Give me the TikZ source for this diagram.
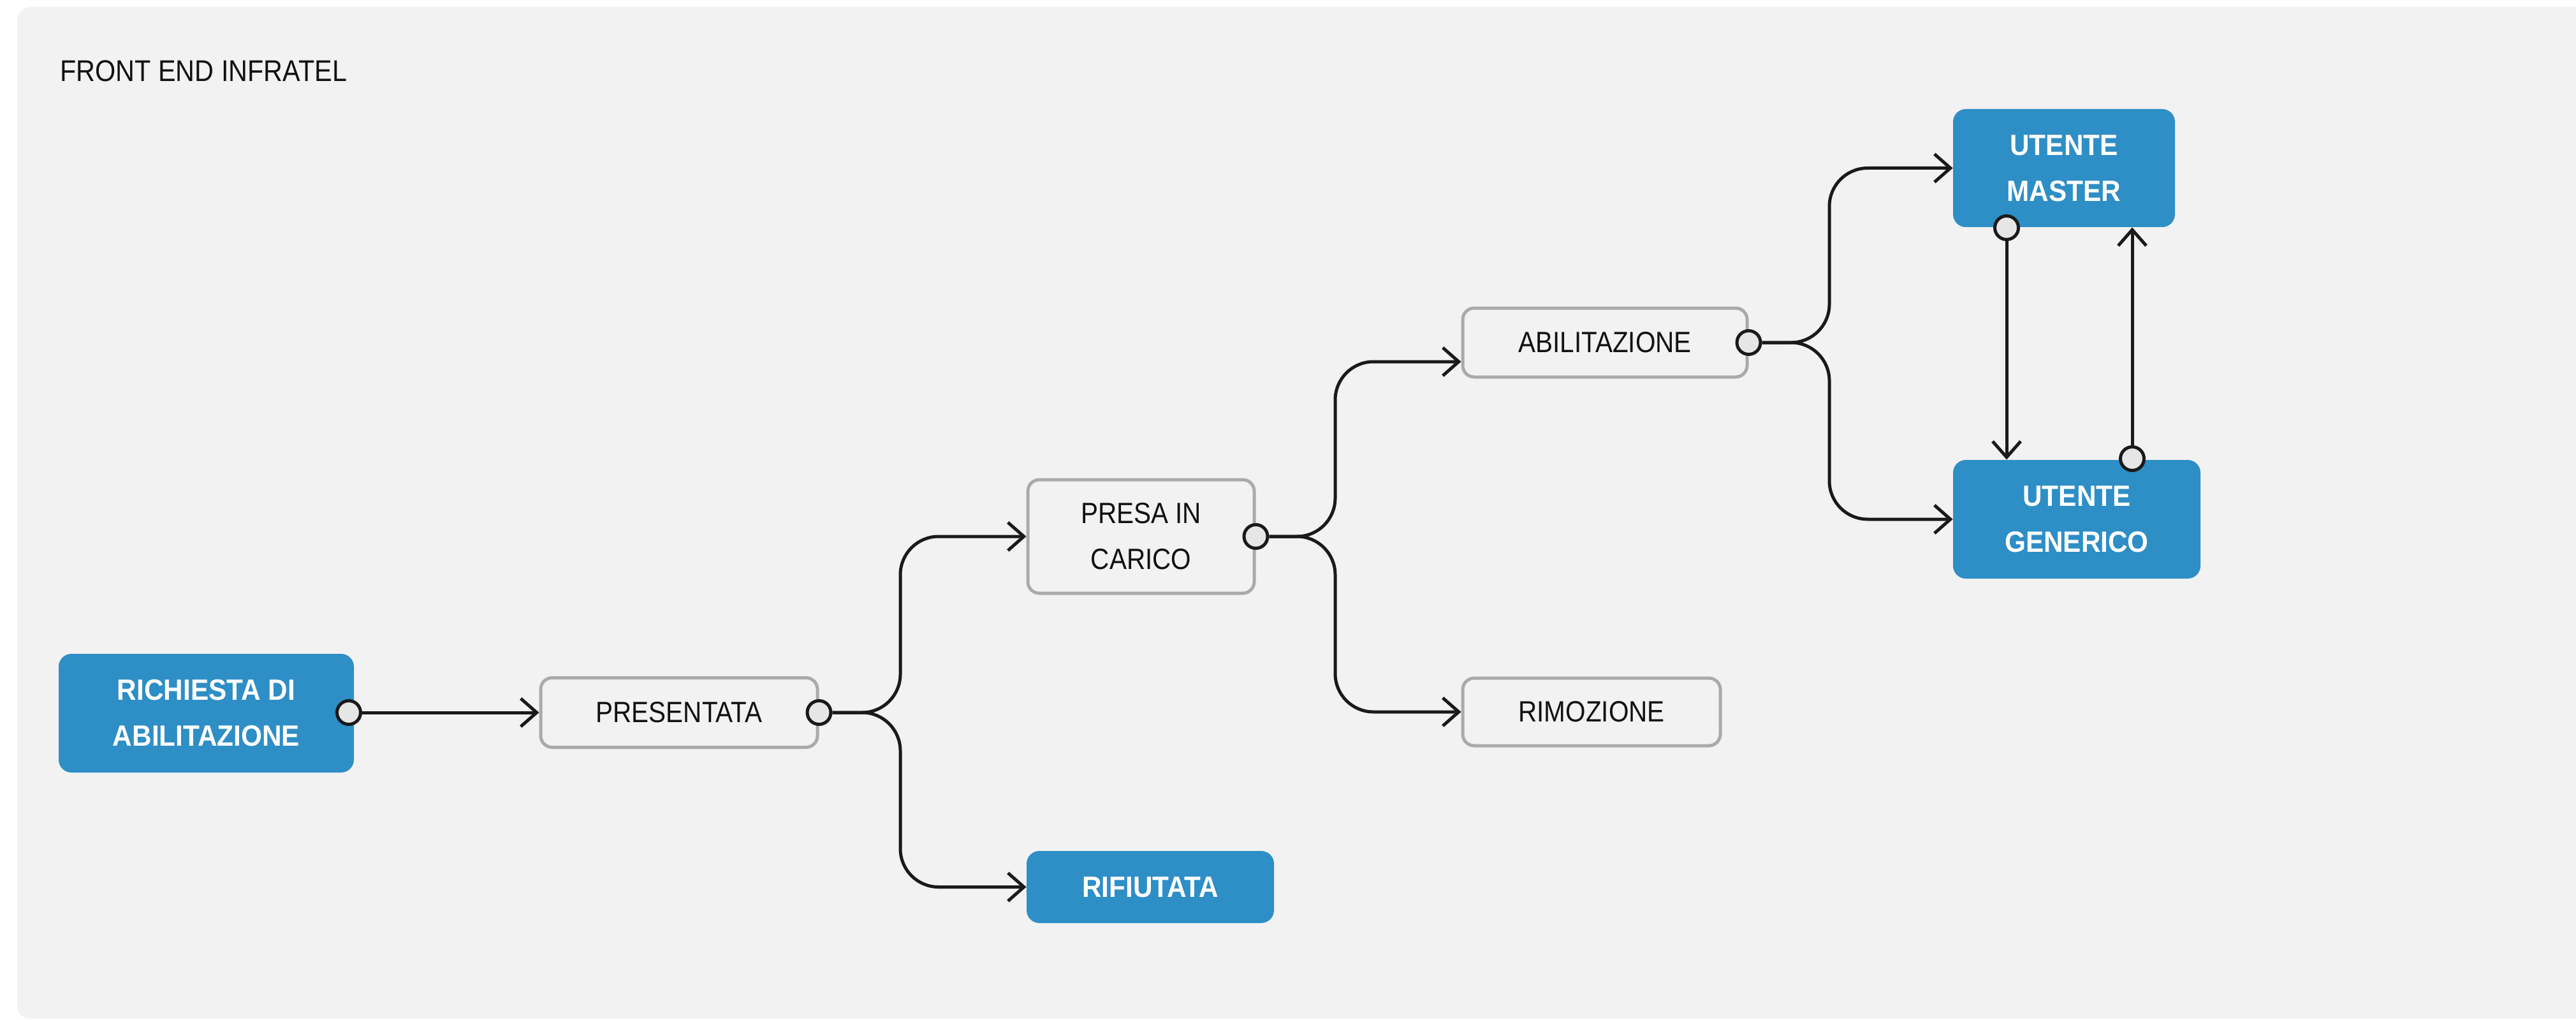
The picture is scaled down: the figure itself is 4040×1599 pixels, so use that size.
\documentclass[tikz,border=0pt]{standalone}
\usepackage{fontspec}
\setmainfont{Liberation Sans}[FakeStretch=0.88]
\newfontfamily\labbold{Liberation Sans}[FakeStretch=0.92]
\usetikzlibrary{arrows.meta,calc}
\definecolor{panel}{HTML}{F2F2F2}
\definecolor{boxblue}{HTML}{2E8EC6}
\definecolor{boxgray}{HTML}{AAAAAA}
\definecolor{linecol}{HTML}{1A1A1A}
\definecolor{portfill}{HTML}{E6E6E6}
\definecolor{textblack}{HTML}{111111}
\tikzset{
  bluebox/.style={fill=boxblue, rounded corners=10pt, text=white,
    font=\labbold\bfseries\fontsize{23}{36}\selectfont, align=center, inner sep=0pt},
  graybox/.style={draw=boxgray, line width=2.5pt, fill=panel, rounded corners=9pt,
    font=\fontsize{23}{36}\selectfont, align=center, inner sep=0pt, text=textblack},
  port/.style={circle, draw=linecol, line width=2.5pt, fill=portfill,
    minimum size=18.5pt, inner sep=0pt},
  conn/.style={draw=linecol, line width=2.5pt, -{Straight Barb[length=12.5pt,width=22pt]}},
  fork/.style={conn, rounded corners=30pt},
}
\begin{document}
\begin{tikzpicture}[x=0.5pt, y=-0.5pt]
\useasboundingbox (0,0) rectangle (4040,1599);
\fill[white] (0,0) rectangle (4040,1599);
\begin{scope}
\clip (0,0) rectangle (4040,1599);
\fill[panel, rounded corners=10pt] (27,11) rectangle (4100,1597);
\end{scope}
\node[anchor=base west, font=\fontsize{23.5}{28}\selectfont, text=textblack, inner sep=0pt] (title) at (94,128) {FRONT END INFRATEL};

% boxes
\node[bluebox, minimum width=231.5pt, minimum height=93pt] (richiesta) at (323.5,1118) {RICHIESTA DI\\ABILITAZIONE};
\node[graybox, minimum width=217pt, minimum height=54.5pt] (presentata) at (1065,1117) {PRESENTATA};
\node[graybox, minimum width=177.5pt, minimum height=89pt] (presa) at (1789.5,841) {PRESA IN\\CARICO};
\node[bluebox, minimum width=194pt, minimum height=56.5pt] (rifiutata) at (1804,1390.5) {RIFIUTATA};
\node[graybox, minimum width=223pt, minimum height=54pt] (abilitazione) at (2517,537) {ABILITAZIONE};
\node[graybox, minimum width=202pt, minimum height=53pt] (rimozione) at (2496,1116) {RIMOZIONE};
\node[bluebox, minimum width=174pt, minimum height=92.5pt] (master) at (3237,263.5) {UTENTE\\MASTER};
\node[bluebox, minimum width=194pt, minimum height=93pt] (generico) at (3257,814) {UTENTE\\GENERICO};

% ports
\node[port] (p1) at (547,1117) {};
\node[port] (p2) at (presentata.east) {};
\node[port] (p3) at (presa.east) {};
\node[port] (p4) at (abilitazione.east) {};
\node[port] (p5) at (3147,357) {};
\node[port] (p6) at (3344,719) {};

% branch points
\coordinate (b2) at (1412,1117);
\coordinate (b3) at (2094,841);
\coordinate (b4) at (2869,537);

% connectors
\draw[conn] (p1) -- (p1 -| presentata.west);
\draw[fork] (p2.east) -- (b2) |- (presa.west);
\draw[fork] (p2.east) -- (b2) |- (rifiutata.west);
\draw[fork] (p3.east) -- (b3) |- ([yshift=-15pt]abilitazione.west);
\draw[fork] (p3.east) -- (b3) |- (rimozione.west);
\draw[fork] (p4.east) -- (b4) |- (master.west);
\draw[fork] (p4.east) -- (b4) |- (generico.west);
\draw[conn] (p5) -- (p5 |- generico.north);
\draw[conn] (p6) -- (p6 |- master.south);
\end{tikzpicture}
\end{document}
